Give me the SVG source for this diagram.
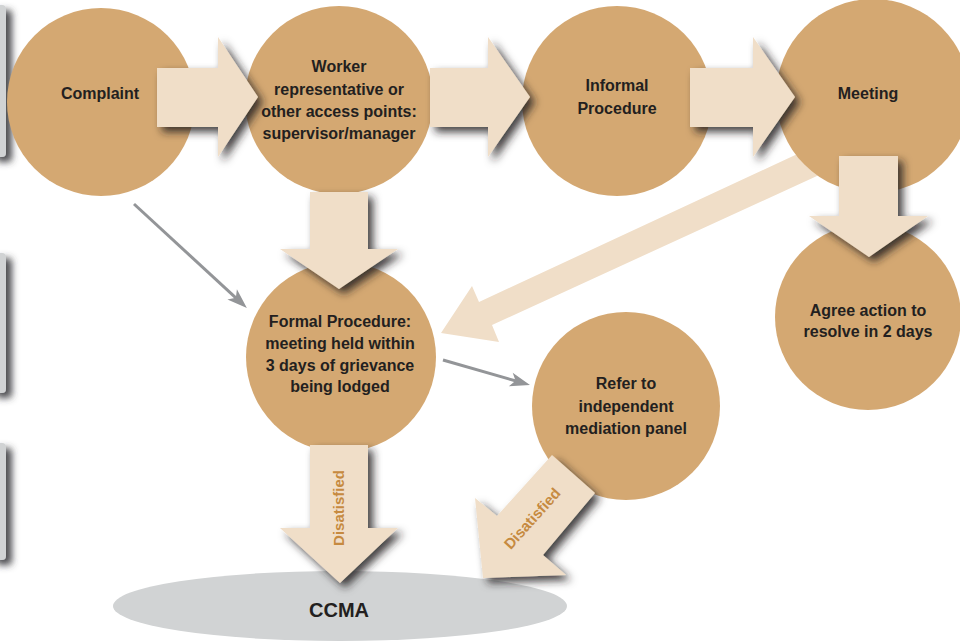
<svg xmlns="http://www.w3.org/2000/svg" width="960" height="643" viewBox="0 0 960 643">
<defs>
<filter id="sh" x="-30%" y="-30%" width="160%" height="160%">
<feGaussianBlur in="SourceAlpha" stdDeviation="4"/>
<feOffset dx="5" dy="5" result="b"/>
<feFlood flood-color="#231f20" flood-opacity="0.85"/>
<feComposite in2="b" operator="in" result="s"/>
<feMerge><feMergeNode in="s"/><feMergeNode in="SourceGraphic"/></feMerge>
</filter>
<filter id="tsh" x="-100%" y="-20%" width="400%" height="140%">
<feGaussianBlur in="SourceAlpha" stdDeviation="3.5"/>
<feOffset dx="6" dy="5" result="b"/>
<feFlood flood-color="#3a3a3e" flood-opacity="0.9"/>
<feComposite in2="b" operator="in" result="s"/>
<feMerge><feMergeNode in="s"/><feMergeNode in="SourceGraphic"/></feMerge>
</filter>
<marker id="gh" viewBox="-13 -8 22 16" refX="0" refY="0" markerWidth="22" markerHeight="16" markerUnits="userSpaceOnUse" orient="auto">
<path d="M8,0 L-12,-7 L-7,0 L-12,7 Z" fill="#939598"/>
</marker>
<style>
.node{fill:#d4a872}
.blk{fill:#f0dec8}
.t{font-family:"Liberation Sans",Arial,sans-serif;font-weight:bold;font-size:16px;fill:#231f20;text-anchor:middle}
.d{font-family:"Liberation Sans",Arial,sans-serif;font-weight:bold;font-size:15px;fill:#c68a40;text-anchor:middle}
.gl{stroke:#939598;stroke-width:3;fill:none;marker-end:url(#gh)}
.tab{fill:#d1d3d4}
</style>
</defs>
<rect width="960" height="643" fill="#ffffff"/>
<g id="tabs" filter="url(#tsh)">
<rect class="tab" x="-10" y="5" width="16" height="152" rx="4"/>
<rect class="tab" x="-10" y="253" width="16" height="140" rx="4"/>
<rect class="tab" x="-10" y="443" width="16" height="117" rx="4"/>
</g>
<g id="ccma">
<ellipse cx="340" cy="606" rx="227" ry="35" fill="#d1d3d4"/>
<text class="t" x="339" y="617" style="font-size:20px">CCMA</text>
</g>
<g id="connectors">
<polygon class="blk" points="806,150 479,302 472,286 441,333 499,342 492,325 830,170"/>
</g>
<g id="complaint"><circle class="node" cx="101" cy="102" r="94"/><text class="t" x="100" y="99">Complaint</text></g>
<g id="worker"><circle class="node" cx="339" cy="100" r="94"/>
<text class="t" x="339" y="72">Worker</text>
<text class="t" x="339" y="95">representative or</text>
<text class="t" x="339" y="117">other access points:</text>
<text class="t" x="339" y="139">supervisor/manager</text></g>
<g id="informal"><circle class="node" cx="617" cy="101" r="95"/>
<text class="t" x="617" y="91">Informal</text>
<text class="t" x="617" y="114">Procedure</text></g>
<g id="meeting"><circle class="node" cx="873" cy="96" r="97"/>
<text class="t" x="868" y="99">Meeting</text></g>
<g id="agree"><circle class="node" cx="868" cy="317" r="93"/>
<text class="t" x="868" y="316">Agree action to</text>
<text class="t" x="868" y="337">resolve in 2 days</text></g>
<g id="formal"><circle class="node" cx="341" cy="357" r="95"/>
<text class="t" x="340" y="327">Formal Procedure:</text>
<text class="t" x="340" y="349">meeting held within</text>
<text class="t" x="340" y="371">3 days of grievance</text>
<text class="t" x="340" y="392">being lodged</text></g>
<g id="refer"><circle class="node" cx="626" cy="406" r="94"/>
<text class="t" x="626" y="389">Refer to</text>
<text class="t" x="626" y="412">independent</text>
<text class="t" x="626" y="434">mediation panel</text></g>
<g id="arrows" filter="url(#sh)">
<polygon class="blk" points="157,68 218,68 218,37 258,97 218,157 218,127 157,127"/>
<polygon class="blk" points="430,68 488,68 488,37 530,97 488,157 488,127 430,127"/>
<polygon class="blk" points="690,68 753,68 753,37 795,97 753,157 753,127 690,127"/>
<polygon class="blk" points="310,192 368,192 368,249 398,249 339,289 280,249 310,249"/>
<polygon class="blk" points="839,156 898,156 898,216 928,216 869,257 809,216 839,216"/>
<polygon class="blk" points="310,445 368,445 368,528 398,528 340,583 280,528 310,528"/>
<polygon class="blk" points="552,455 497,516 475,498 483,578 566,575 543,555 595,493"/>
</g>
<g id="labels">
<text class="d" transform="translate(344,508) rotate(-90)">Disatisfied</text>
<text class="d" transform="translate(536,522) rotate(-48)">Disatisfied</text>
</g>
<g id="lines">
<line class="gl" x1="134" y1="204" x2="241" y2="302.6"/>
<line class="gl" x1="443" y1="360" x2="522.3" y2="382.8"/>
</g>
</svg>
